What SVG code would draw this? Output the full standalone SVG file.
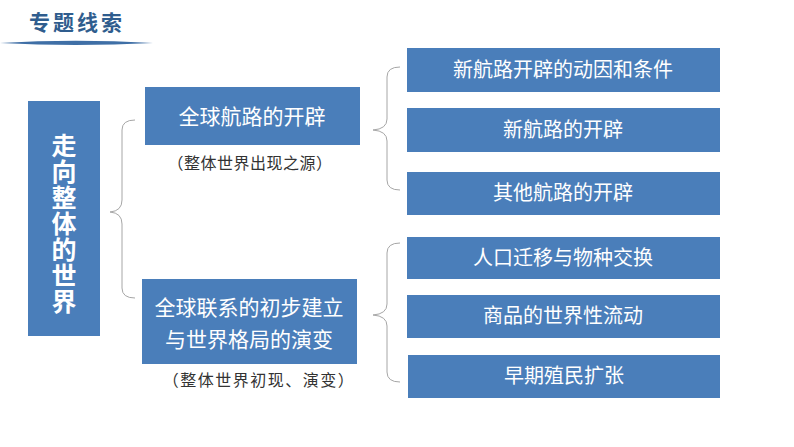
<svg xmlns="http://www.w3.org/2000/svg" width="794" height="447" viewBox="0 0 794 447">
<style>
.box{fill:#4A7EBA;}
.t{font-family:"Noto Sans CJK SC","Noto Sans",sans-serif;fill:#ffffff;text-anchor:middle;}
.sub{font-family:"Noto Sans CJK SC","Noto Sans",sans-serif;fill:#333333;text-anchor:middle;font-size:16px;}
.brace{fill:none;stroke:#a6a6a6;stroke-width:1;}
</style>
<rect width="794" height="447" fill="#ffffff"/>
<g id="header">
<text x="77" y="30" style="font-family:'Noto Sans CJK SC',sans-serif;font-size:21px;font-weight:bold;fill:#2F5D8E;text-anchor:middle;letter-spacing:3px">专题线索</text>
<path d="M0,43 Q75,38.5 153,43 Q75,47 0,43 Z" fill="#3F6FA6"/>
</g>
<g id="root">
<rect class="box" x="28" y="101" width="72" height="235"/>
<text class="t" x="64" y="224" font-size="25" font-weight="bold" style="writing-mode:vertical-rl;letter-spacing:1px">走向整体的世界</text>
</g>
<g id="connectors">
<path class="brace" d="M135,120 Q122,120 122,130 L122,200 Q122,211 110,212 Q122,213 122,224 L122,288 Q122,298 135,298"/>
<path class="brace" d="M400,67 Q387,67 387,77 L387,119 Q387,129 373,130 Q387,131 387,141 L387,180 Q387,190 400,190"/>
<path class="brace" d="M400,243 Q387,243 387,253 L387,304 Q387,314 373,315 Q387,316 387,326 L387,372 Q387,382 400,382"/>
</g>
<g id="n1">
<rect class="box" x="145" y="87" width="215" height="58"/>
<text class="t" x="252" y="124" font-size="21">全球航路的开辟</text>
<text class="sub" x="250" y="169" letter-spacing="0.5">（整体世界出现之源）</text>
</g>
<g id="n2">
<rect class="box" x="142" y="279" width="215" height="85"/>
<text class="t" x="249" y="315" font-size="21">全球联系的初步建立</text>
<text class="t" x="249" y="347" font-size="21">与世界格局的演变</text>
<text class="sub" x="259" y="386" letter-spacing="1.5">（整体世界初现、演变）</text>
</g>
<g id="n3">
<rect class="box" x="407" y="48" width="313" height="44"/>
<text class="t" x="563" y="77" font-size="20">新航路开辟的动因和条件</text>
</g>
<g id="n4">
<rect class="box" x="407" y="108" width="313" height="44"/>
<text class="t" x="563" y="137" font-size="20">新航路的开辟</text>
</g>
<g id="n5">
<rect class="box" x="407" y="172" width="313" height="43"/>
<text class="t" x="563" y="200" font-size="20">其他航路的开辟</text>
</g>
<g id="n6">
<rect class="box" x="407" y="237" width="313" height="42"/>
<text class="t" x="563" y="265" font-size="20">人口迁移与物种交换</text>
</g>
<g id="n7">
<rect class="box" x="407" y="295" width="313" height="43"/>
<text class="t" x="563" y="323" font-size="20">商品的世界性流动</text>
</g>
<g id="n8">
<rect class="box" x="408" y="355" width="312" height="43"/>
<text class="t" x="564" y="383" font-size="20">早期殖民扩张</text>
</g>
</svg>
